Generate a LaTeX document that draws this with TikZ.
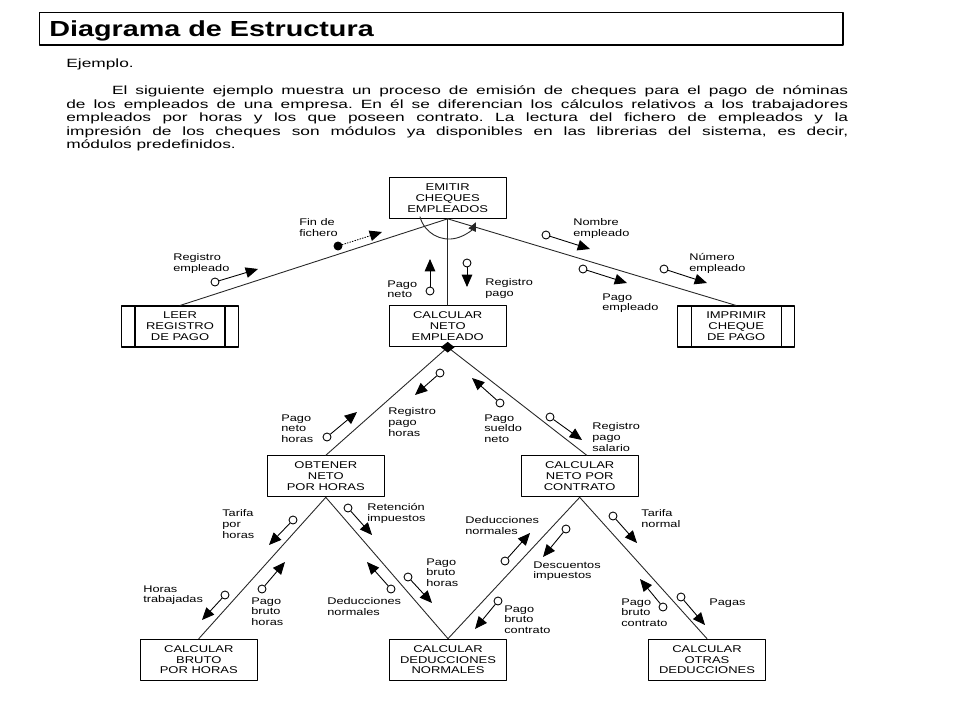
\documentclass[tikz,border=0pt]{standalone}
\usepackage{fontspec}
\setmainfont{Liberation Sans}[FakeStretch=1.32]
\newfontfamily\textofont{Liberation Sans}[FakeStretch=1.45]
\usepackage{tikz}
\usetikzlibrary{arrows.meta}
\usetikzlibrary{shapes.geometric}
\begin{document}
\begin{tikzpicture}[line cap=round,line join=round,>={Triangle[length=7pt,width=6pt]},x=0.02cm,y=-0.02cm,
  modulo/.style={draw,fill=white,line width=0.6pt,minimum width=2.34cm,minimum height=0.82cm,inner sep=0pt,align=center,font=\fontsize{5.6}{6.2}\selectfont},
  predef/.style={modulo,path picture={
    \draw ([xshift=0.27cm]path picture bounding box.north west) -- ([xshift=0.27cm]path picture bounding box.south west);
    \draw ([xshift=-0.27cm]path picture bounding box.north east) -- ([xshift=-0.27cm]path picture bounding box.south east);}},
  enlace/.style={line width=0.5pt,black!85},
  dato/.style={circle,draw,fill=white,line width=0.5pt,inner sep=0pt,minimum size=0.16cm},
  control/.style={dato,fill=black},
  flujo/.style={->,line width=0.5pt},
  etiq/.style={anchor=north west,align=left,inner sep=0pt,font=\fontsize{5.5}{6.2}\selectfont}]
\useasboundingbox (0,0) rectangle (960,720);
\fill[white] (0,0) rectangle (960,720);

\draw [line width=0.6pt] (39.3,12.3) rectangle (843,45);
\node[anchor=base west,inner sep=0pt,font=\fontsize{12.4}{14}\selectfont\bfseries] (titulo) at (49,36.7) {Diagrama de Estructura};
\node[anchor=base west,inner sep=0pt,font=\textofont\fontsize{6.8}{7.65}\selectfont] (ejemplo) at (66,67.7) {Ejemplo.};
\node[anchor=north west,inner sep=0pt,text width=15.64cm,align=justify,font=\textofont\fontsize{6.8}{7.7}\selectfont\frenchspacing] (texto) at (66,85.5)
 {\hspace*{0.914cm}El siguiente ejemplo muestra un proceso de emisión de cheques para el pago de nóminas\linebreak
 de los empleados de una empresa. En él se diferencian los cálculos relativos a los trabajadores\linebreak
 empleados por horas y los que poseen contrato. La lectura del fichero de empleados y la\linebreak
 impresión de los cheques son módulos ya disponibles en las librerias del sistema, es decir,\linebreak
 módulos predefinidos.};

\node[modulo] (emitir) at (447.7,197.8) {EMITIR\\CHEQUES\\EMPLEADOS};
\node[predef] (leer) at (180,326.5) {LEER\\REGISTRO\\DE PAGO};
\node[modulo] (netoemp) at (447.7,326.2) {CALCULAR\\NETO\\EMPLEADO};
\node[predef] (imprimir) at (736.2,326.5) {IMPRIMIR\\CHEQUE\\DE PAGO};
\node[modulo] (obtener) at (325.8,476.3) {OBTENER\\NETO\\POR HORAS};
\node[modulo] (contrato) at (579.7,476.3) {CALCULAR\\NETO POR\\CONTRATO};
\node[modulo] (bruto) at (198.8,659.7) {CALCULAR\\BRUTO\\POR HORAS};
\node[modulo] (deduc) at (448,659.7) {CALCULAR\\DEDUCCIONES\\NORMALES};
\node[modulo] (otras) at (707,659.7) {CALCULAR\\OTRAS\\DEDUCCIONES};

\draw [enlace] (emitir.south) -- (leer.north);
\draw [enlace] (emitir.south) -- (netoemp.north);
\draw [enlace] (emitir.south) -- (imprimir.north);
\draw [enlace] (netoemp.south) -- (obtener.north);
\draw [enlace] (netoemp.south) -- ([xshift=4pt]contrato.north);
\draw [enlace] (obtener.south) -- (bruto.north);
\draw [enlace] (obtener.south) -- (deduc.north);
\draw [enlace] (contrato.south) -- (deduc.north);
\draw [enlace] (contrato.south) -- (otras.north);
\draw [enlace,->,>={Triangle[length=5pt,width=4.5pt]}] (420,216.8) arc[start angle=165,end angle=26,radius=30];
\node[diamond,fill=black,inner sep=0pt,minimum width=0.28cm,minimum height=0.22cm] (sel) at (netoemp.south) {};

\node[dato] (c1) at (215,282) {};      \coordinate (c1p) at (258,269);
\node[control] (c2) at (338,246) {};   \coordinate (c2p) at (382,232);
\node[dato] (c3) at (430,291) {};      \coordinate (c3p) at (430,259);
\node[dato] (c4) at (467,263) {};      \coordinate (c4p) at (467,287);
\node[dato] (c5) at (546,235) {};      \coordinate (c5p) at (590,249);
\node[dato] (c6) at (583,269) {};      \coordinate (c6p) at (627,283);
\node[dato] (c7) at (664,269) {};      \coordinate (c7p) at (707,283);
\node[dato] (c8) at (440,373) {};      \coordinate (c8p) at (415,395);
\node[dato] (c9) at (327,437) {};      \coordinate (c9p) at (357,412);
\node[dato] (c10) at (500,403) {};     \coordinate (c10p) at (472,378);
\node[dato] (c11) at (550,417) {};     \coordinate (c11p) at (582,440);
\node[dato] (c12) at (293,520) {};     \coordinate (c12p) at (269,545);
\node[dato] (c13) at (262,589) {};     \coordinate (c13p) at (285,562);
\node[dato] (c14) at (225,595) {};     \coordinate (c14p) at (202,620);
\node[dato] (c15) at (348,508) {};     \coordinate (c15p) at (372,535);
\node[dato] (c16) at (391,589) {};     \coordinate (c16p) at (367,562);
\node[dato] (c17) at (408,577) {};     \coordinate (c17p) at (432,603);
\node[dato] (c18) at (505,561) {};     \coordinate (c18p) at (530,533);
\node[dato] (c19) at (566,529) {};     \coordinate (c19p) at (543,557);
\node[dato] (c20) at (498,601) {};     \coordinate (c20p) at (475,629);
\node[dato] (c21) at (613,516) {};     \coordinate (c21p) at (637,543);
\node[dato] (c22) at (663,607) {};     \coordinate (c22p) at (640,579);
\node[dato] (c23) at (681,597) {};     \coordinate (c23p) at (705,625);

\draw [flujo] (c1) -- (c1p);
\draw [flujo,densely dotted] (c2) -- (c2p);
\foreach \i in {3,...,23}
  \draw [flujo] (c\i) -- (c\i p);

\node[etiq] (e1) at (173,253) {Registro\\empleado};
\node[etiq] (e2) at (299,218) {Fin de\\fichero};
\node[etiq] (e3) at (387,280) {Pago\\neto};
\node[etiq] (e4) at (485,278) {Registro\\pago};
\node[etiq] (e5) at (573,218) {Nombre\\empleado};
\node[etiq] (e6) at (602,293) {Pago\\empleado};
\node[etiq] (e7) at (689,253) {Número\\empleado};
\node[etiq] (e8) at (388,407) {Registro\\pago\\horas};
\node[etiq] (e9) at (281,414) {Pago\\neto\\horas};
\node[etiq] (e10) at (484,414) {Pago\\sueldo\\neto};
\node[etiq] (e11) at (592,422) {Registro\\pago\\salario};
\node[etiq] (e12) at (222,509) {Tarifa\\por\\horas};
\node[etiq] (e13) at (251,597) {Pago\\bruto\\horas};
\node[etiq] (e14) at (143,585) {Horas\\trabajadas};
\node[etiq] (e15) at (367,503) {Retención\\impuestos};
\node[etiq] (e16) at (327,597) {Deducciones\\normales};
\node[etiq] (e17) at (426,558) {Pago\\bruto\\horas};
\node[etiq] (e18) at (465,516) {Deducciones\\normales};
\node[etiq] (e19) at (533,561) {Descuentos\\impuestos};
\node[etiq] (e20) at (504,605) {Pago\\bruto\\contrato};
\node[etiq] (e21) at (641,509) {Tarifa\\normal};
\node[etiq] (e22) at (621,598) {Pago\\bruto\\contrato};
\node[etiq] (e23) at (709,598) {Pagas};
\end{tikzpicture}
\end{document}
